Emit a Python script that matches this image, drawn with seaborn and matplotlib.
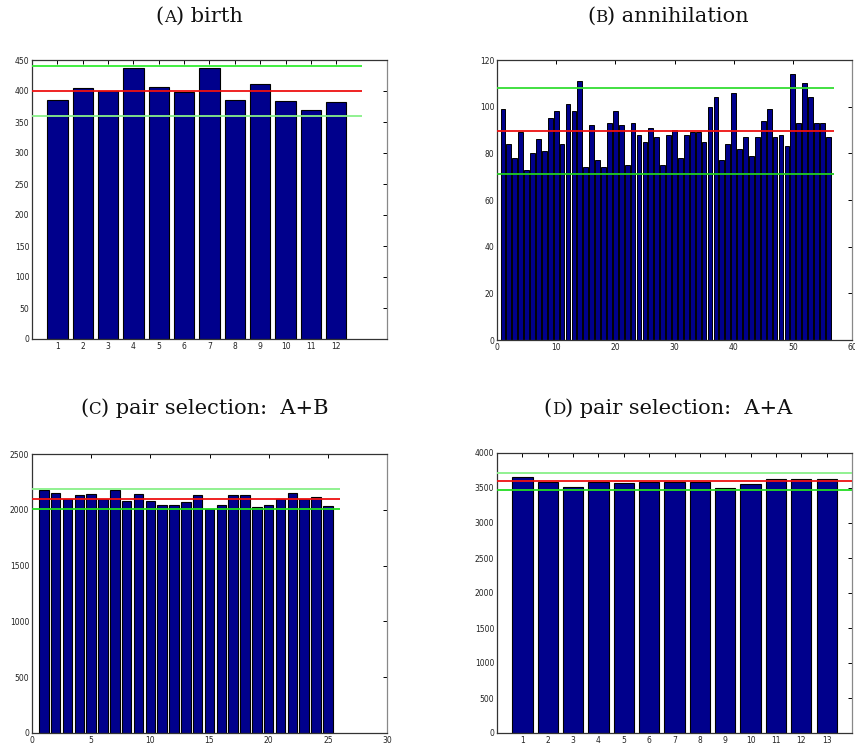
import matplotlib
matplotlib.use("Agg")
import numpy as np
import pandas as pd
import seaborn as sns
import matplotlib.pyplot as plt

# ---------------- data ----------------
birth_values = [385, 405, 400, 437, 406, 399, 437, 385, 411, 384, 369, 382]
birth_lines = [440, 400, 360]          # upper, mean, lower

annih_values = [99, 84, 78, 89, 73, 80, 86, 81, 95, 98,
                84, 101, 98, 111, 74, 92, 77, 74, 93, 98,
                92, 75, 93, 88, 85, 91, 87, 75, 88, 90,
                78, 88, 89, 89, 85, 100, 104, 77, 84, 106,
                82, 87, 79, 87, 94, 99, 87, 88, 83, 114,
                93, 110, 104, 93, 93, 87]
annih_lines = [108, 89.5, 71]

pairab_values = [2179, 2155, 2098, 2134, 2143, 2098, 2179, 2080, 2143, 2080,
                 2045, 2039, 2074, 2134, 2006, 2039, 2134, 2134, 2024, 2045,
                 2098, 2149, 2098, 2119, 2033]
pairab_lines = [2190, 2101, 2006]

pairaa_values = [3657, 3581, 3514, 3581, 3576, 3581, 3581, 3581, 3495, 3562,
                 3624, 3633, 3633]
pairaa_lines = [3710, 3595, 3476]

titles = [("A", "birth"), ("B", "annihilation"),
          ("C", "pair selection:  A+B"), ("D", "pair selection:  A+A")]

NAVY = "#00008C"

sns.set_style("white")
plt.rcParams["font.family"] = ["DejaVu Sans"]

fig = plt.figure(figsize=(8.55, 7.47), dpi=100)

W, H = 855, 747
def axes_px(l, t, r, b):
    return fig.add_axes([l / W, 1 - b / H, (r - l) / W, (b - t) / H])

axA = axes_px(32, 60, 387, 339)
axB = axes_px(497, 60, 852, 340)
axC = axes_px(32, 454, 387, 733)
axD = axes_px(497, 453, 852, 733)


def panel(ax, values, lines, line_colors, xlim, ylim, xticks, yticks, lw_bar=0.8):
    n = len(values)
    df = pd.DataFrame({"x": np.arange(1, n + 1), "y": values})
    sns.barplot(data=df, x="x", y="y", native_scale=True, color=NAVY,
                saturation=1, edgecolor="black", linewidth=lw_bar,
                width=0.8, errorbar=None, ax=ax)
    for v, c in zip(lines, line_colors):
        ax.hlines(v, 0, n + 1, colors=c, linewidth=1.3, zorder=3)
    ax.set_xlim(*xlim)
    ax.set_ylim(*ylim)
    ax.set_xticks(xticks)
    ax.set_yticks(yticks)
    ax.set_xticklabels([str(t) for t in xticks])
    ax.set_yticklabels([str(t) for t in yticks])
    ax.set_xlabel("")
    ax.set_ylabel("")
    ax.tick_params(direction="in", top=True, right=True, length=3, width=0.7,
                   labelsize=5.5, pad=2, colors="black", labelcolor="#222222")
    for s in ["left", "bottom", "top"]:
        ax.spines[s].set_color("#333333")
        ax.spines[s].set_linewidth(0.9)
    ax.spines["right"].set_color("#888888")
    ax.spines["right"].set_linewidth(0.9)


panel(axA, birth_values, birth_lines, ["#33ee33", "#ee1111", "#88f088"],
      (0, 14), (0, 450), list(range(1, 13)), list(range(0, 451, 50)))
panel(axB, annih_values, annih_lines, ["#33dd33", "#ee1111", "#22cc22"],
      (0, 60), (0, 120), list(range(0, 61, 10)), list(range(0, 121, 20)),
      lw_bar=0.7)
panel(axC, pairab_values, pairab_lines, ["#88f088", "#ee1111", "#22dd22"],
      (0, 30), (0, 2500), list(range(0, 31, 5)), list(range(0, 2501, 500)))
panel(axD, pairaa_values, pairaa_lines, ["#88f088", "#ee1111", "#22dd22"],
      (0, 14), (0, 4000), list(range(1, 14)), list(range(0, 4001, 500)))

# ---------------- titles with small-caps letters ----------------
renderer = fig.canvas.get_renderer()
def sc_title(xc_px, y_px, letter, rest, size=15):
    pieces = [("(", size), (letter, size * 0.8), (") " + rest, size)]
    texts = []
    for s, fs in pieces:
        t = fig.text(0, 1 - y_px / H, s, fontsize=fs, family="DejaVu Serif",
                     va="baseline", ha="left", color="#111111")
        texts.append(t)
    widths = [t.get_window_extent(renderer).width for t in texts]
    total = sum(widths)
    x = xc_px - total / 2
    for t, w in zip(texts, widths):
        t.set_x(x / W)
        x += w

sc_title(199, 22, *titles[0])
sc_title(668, 22, *titles[1])
sc_title(204, 414, *titles[2])
sc_title(668, 414, *titles[3])

fig.savefig("out.png", dpi=100)
